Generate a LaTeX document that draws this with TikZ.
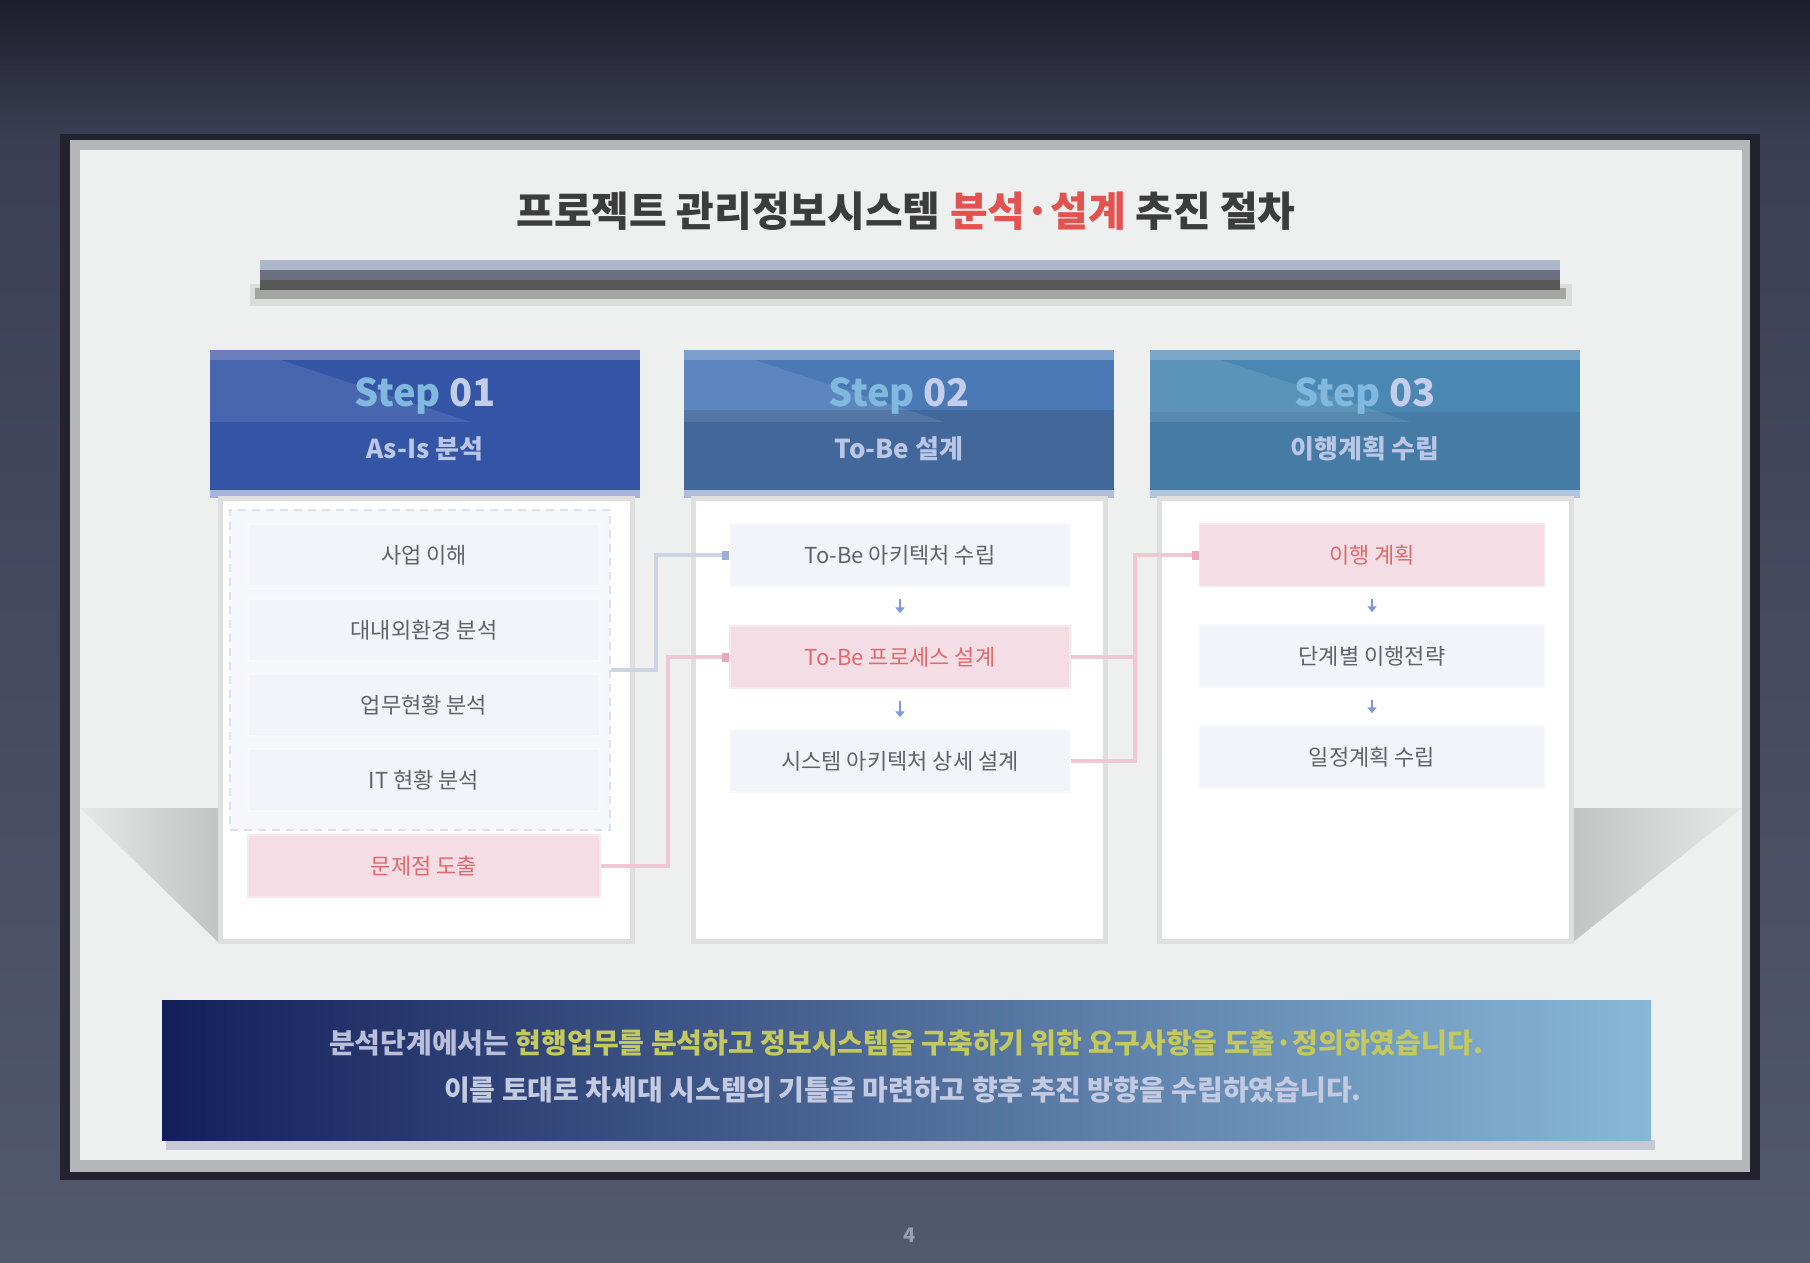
\documentclass[tikz,border=0pt]{standalone}
\usepackage{fontspec}
\setmainfont{Noto Sans CJK KR}
\usetikzlibrary{arrows.meta,calc}
\definecolor{bgtop}{HTML}{1C1E2C}
\definecolor{bgmid}{HTML}{3C3F54}
\definecolor{bgbot}{HTML}{52586E}
\definecolor{pageshadow}{HTML}{23222F}
\definecolor{pageborder}{HTML}{B5B6BA}
\definecolor{pagefill}{HTML}{EEF0EF}
\definecolor{titletext}{HTML}{3C3C3C}
\definecolor{titlered}{HTML}{E2534F}
\definecolor{bartop}{HTML}{ADB7C8}
\definecolor{barmid}{HTML}{6B7181}
\definecolor{bardark}{HTML}{585859}
\definecolor{barsh}{HTML}{A3A5A3}
\definecolor{barsh2}{HTML}{DADBDA}
\definecolor{hA}{HTML}{3454A6}
\definecolor{hAtop}{HTML}{6A7FBC}
\definecolor{hAbot}{HTML}{A6B2D6}
\definecolor{hBtop}{HTML}{4A79B6}
\definecolor{hBlow}{HTML}{41679B}
\definecolor{hBstrip}{HTML}{7D9FCB}
\definecolor{hBbot}{HTML}{ADBED6}
\definecolor{hCtop}{HTML}{4A87B2}
\definecolor{hClow}{HTML}{457BA5}
\definecolor{hCstrip}{HTML}{7CA6C6}
\definecolor{hCbot}{HTML}{B1C6DC}
\definecolor{steptext}{HTML}{80B8DE}
\definecolor{numtext}{HTML}{C4CEEC}
\definecolor{subtext}{HTML}{BAC6E6}
\definecolor{panelline}{HTML}{DFDFE0}
\definecolor{dashline}{HTML}{D9E0EE}
\definecolor{dboxfill}{HTML}{F6F7FA}
\definecolor{itemfill}{HTML}{F2F4F9}
\definecolor{itemline}{HTML}{F8F9FB}
\definecolor{itemtext}{HTML}{626268}
\definecolor{pinkfill}{HTML}{F5DDE6}
\definecolor{pinkline}{HTML}{F8E8EC}
\definecolor{pinktext}{HTML}{E0696B}
\definecolor{blueline}{HTML}{CCD4E4}
\definecolor{bluetip}{HTML}{9DAED6}
\definecolor{pinkln}{HTML}{F1C7D4}
\definecolor{pinktip}{HTML}{ECA8C0}
\definecolor{arrowc}{HTML}{8094E6}
\definecolor{banL}{HTML}{141F5A}
\definecolor{banM}{HTML}{3C4A7C}
\definecolor{banR}{HTML}{88B8D8}
\definecolor{bannery}{HTML}{C4C95E}
\definecolor{bannerw}{HTML}{B9BEDA}
\definecolor{bannerw2}{HTML}{C3CAE2}
\definecolor{bansh}{HTML}{C6C9D4}
\definecolor{pnumc}{HTML}{9A9EB0}
\definecolor{sideshL}{HTML}{E6E7E7}
\definecolor{sideshR}{HTML}{C2C3C3}
\begin{document}
\begin{tikzpicture}[x=1pt,y=-1pt,
  header/.style={rectangle, inner sep=0pt, minimum width=430pt, minimum height=140pt},
  panel/.style={rectangle, fill=white, draw=panelline, line width=5pt, inner sep=0pt, minimum height=443pt},
  item/.style={rectangle, fill=itemfill, draw=itemline, line width=1.5pt, inner sep=0pt, minimum height=62pt, text=itemtext, font=\fontsize{22pt}{26pt}\selectfont},
  pinkitem/.style={item, fill=pinkfill, draw=pinkline, text=pinktext},
  steplabel/.style={text=numtext, font=\fontsize{38pt}{42pt}\selectfont\bfseries, inner sep=0pt},
  sublabel/.style={text=subtext, font=\fontsize{26pt}{30pt}\selectfont\bfseries, inner sep=0pt},
  flowarr/.style={draw=arrowc, line width=2.5pt, -{Triangle[length=6pt,width=9pt]}, shorten <=12pt, shorten >=12pt},
  blueconn/.style={draw=blueline, line width=4pt, -{Square[length=7pt,width=9pt,color=bluetip]}},
  pinkconn/.style={draw=pinkln, line width=4pt, -{Square[length=7pt,width=9pt,color=pinktip]}},
  pinkplain/.style={draw=pinkln, line width=4pt}
]
\useasboundingbox (0,0) rectangle (1810,1262);
% background
\shade[top color=bgtop, bottom color=bgmid] (0,0) rectangle (1810,140);
\shade[top color=bgmid, bottom color=bgbot] (0,139) rectangle (1810,1262);
% page
\fill[pageshadow] (60,134) rectangle (1760,1180);
\fill[pageborder] (70,140) rectangle (1750,1172);
\fill[pagefill] (80,150) rectangle (1742,1160);
% side floor shadows
\shade[left color=sideshL, right color=sideshR] (80,808) -- (218,808) -- (218,942) -- cycle;
\shade[right color=sideshL, left color=sideshR] (1742,808) -- (1573,808) -- (1573,942) -- cycle;
% title
\node[text=titletext, font=\fontsize{41pt}{46pt}\selectfont\bfseries, inner sep=0pt] (title) at (906,211)
  {프로젝트 관리정보시스템 {\color{titlered}분석·설계} 추진 절차};
% title bar
\fill[barsh2] (250,284) rectangle (1572,306);
\fill[barsh] (255,288) rectangle (1566,299);
\fill[bardark] (260,268) rectangle (1560,290);
\fill[barmid] (260,268) rectangle (1560,280);
\fill[bartop] (260,260) rectangle (1560,270);
% headers
\node[header, fill=hA] (h1) at (425,420) {};
\node[header, fill=hBtop] (h2) at (899,420) {};
\node[header, fill=hCtop] (h3) at (1365,420) {};
\fill[hBlow] ($(h2.north west)+(0,60)$) rectangle (h2.south east);
\fill[hClow] ($(h3.north west)+(0,62)$) rectangle (h3.south east);
\foreach \h/\tc/\bc in {h1/hAtop/hAbot, h2/hBstrip/hBbot, h3/hCstrip/hCbot}{
  \fill[\tc] (\h.north west) rectangle ($(\h.north east)+(0,10)$);
  \fill[\bc] (\h.south west) rectangle ($(\h.south east)+(0,8)$);
  \fill[white, opacity=0.10] ($(\h.north west)+(0,10)$) -- ++(70,0) -- ++(190,62) -- ++(-260,0) -- cycle;
}
\node[steplabel] (h1a) at (425,396) {{\color{steptext}Step} 01};
\node[sublabel] (h1b) at (425,449) {As-Is 분석};
\node[steplabel] (h2a) at (899,396) {{\color{steptext}Step} 02};
\node[sublabel] (h2b) at (899,449) {To-Be 설계};
\node[steplabel] (h3a) at (1365,396) {{\color{steptext}Step} 03};
\node[sublabel] (h3b) at (1365,449) {이행계획 수립};
% panels
\node[panel, minimum width=412pt] (p1) at (426,720) {};
\node[panel, minimum width=412pt] (p2) at (899,720) {};
\node[panel, minimum width=412pt] (p3) at (1365,720) {};
% column 1
\node[rectangle, draw=dashline, dash pattern=on 8pt off 6pt, line width=2.5pt, fill=dboxfill, minimum width=380pt, minimum height=320pt, inner sep=0pt] (dbox) at (420,670) {};
\node[item, minimum width=352pt] (a1) at (424,555) {사업 이해};
\node[item, minimum width=352pt] (a2) at (424,630) {대내외환경 분석};
\node[item, minimum width=352pt] (a3) at (424,705) {업무현황 분석};
\node[item, minimum width=352pt] (a4) at (424,780) {IT 현황 분석};
\node[pinkitem, minimum width=352pt] (a5) at (424,866) {문제점 도출};
% column 2
\node[item, minimum width=340pt] (b1) at (900,555) {To-Be 아키텍처 수립};
\node[pinkitem, minimum width=340pt] (b2) at (900,657) {To-Be 프로세스 설계};
\node[item, minimum width=340pt] (b3) at (900,761) {시스템 아키텍처 상세 설계};
% column 3
\node[pinkitem, minimum width=345pt] (c1) at (1372,555) {이행 계획};
\node[item, minimum width=345pt] (c2) at (1372,656) {단계별 이행전략};
\node[item, minimum width=345pt] (c3) at (1372,757) {일정계획 수립};
% flow arrows
\draw[flowarr] (b1.south) -- (b2.north);
\draw[flowarr] (b2.south) -- (b3.north);
\draw[flowarr] (c1.south) -- (c2.north);
\draw[flowarr] (c2.south) -- (c3.north);
% connectors
\draw[blueconn] (dbox.east) -- ++(45,0) |- (b1.west);
\draw[pinkconn] (a5.east) -- ++(67,0) |- (b2.west);
\coordinate (j) at (1135,555);
\draw[pinkplain] (b2.east) -- (b2.east -| j);
\draw[pinkconn] (b3.east) -| (j) -- (c1.west);
% banner
\fill[bansh] (166,1140) rectangle (1655,1150);
\node[rectangle, inner sep=0pt, minimum width=1489pt, minimum height=140pt, left color=banL, middle color=banM, right color=banR] (banner) at (906.5,1070) {};
\node[text=bannerw, font=\fontsize{28pt}{32pt}\selectfont\bfseries, inner sep=0pt] (bl1) at (906,1043)
  {분석단계에서는 {\color{bannery}현행업무를 분석하고 정보시스템을 구축하기 위한 요구사항을 도출·정의하였습니다.}};
\node[text=bannerw2, font=\fontsize{28pt}{32pt}\selectfont\bfseries, inner sep=0pt] (bl2) at (903,1090)
  {이를 토대로 차세대 시스템의 기틀을 마련하고 향후 추진 방향을 수립하였습니다.};
% page number
\node[text=pnumc, font=\fontsize{20pt}{22pt}\selectfont\bfseries, inner sep=0pt] (pnum) at (910,1235) {4};
\end{tikzpicture}
\end{document}
